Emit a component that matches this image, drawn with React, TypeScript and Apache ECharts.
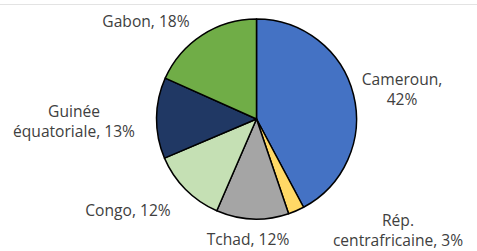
import React, { useEffect, useRef } from "react";
import * as echarts from "echarts";

const countries = ["Cameroun", "Rép. centrafricaine", "Tchad", "Congo", "Guinée équatoriale", "Gabon"];
const shares = [42.2, 2.6, 11.7, 12.1, 13.1, 18.3];
const colors = ["#4472C4", "#FFD966", "#A5A5A5", "#C5E0B4", "#203864", "#70AD47"];
const wrapLabel = [true, true, false, false, true, false];
const labelPos: [number, number][] = [
  [402, 89],
  [398, 230],
  [248, 239],
  [128, 210],
  [74, 121],
  [146, 21],
];

export default function App() {
  const ref = useRef<HTMLDivElement>(null);
  useEffect(() => {
    document.body.style.margin = "0";
    const chart = echarts.init(ref.current!, null, { renderer: "svg" });
    chart.setOption({
      animation: false,
      backgroundColor: "#ffffff",
      graphic: [
        {
          type: "line",
          shape: { x1: 0, y1: 4.5, x2: 477, y2: 4.5 },
          style: { stroke: "#e3e3e3", lineWidth: 1 },
        },
      ],
      series: [
        {
          type: "pie",
          center: [256.5, 119],
          radius: [0, 100],
          startAngle: 90,
          clockwise: true,
          avoidLabelOverlap: false,
          itemStyle: { borderColor: "#000000", borderWidth: 1.5 },
          labelLine: { show: false },
          label: {
            show: true,
            position: "outside",
            color: "#404040",
            fontFamily: "Open Sans",
            fontSize: 15.6,
            lineHeight: 20,
            align: "center",
            formatter: (p: any) => {
              const t = `${p.name}, ${Math.round(p.percent)}%`;
              return wrapLabel[p.dataIndex] ? t.replace(" ", "\n") : t;
            },
          },
          labelLayout: (p: any) => ({
            x: labelPos[p.dataIndex][0],
            y: labelPos[p.dataIndex][1],
            align: "center",
            verticalAlign: "middle",
          }),
          emphasis: { disabled: true },
          data: countries.map((c, i) => ({
            name: c,
            value: shares[i],
            itemStyle: { color: colors[i] },
          })),
        },
      ],
    });
    return () => chart.dispose();
  }, []);
  return <div ref={ref} style={{ width: 477, height: 251 }} />;
}
